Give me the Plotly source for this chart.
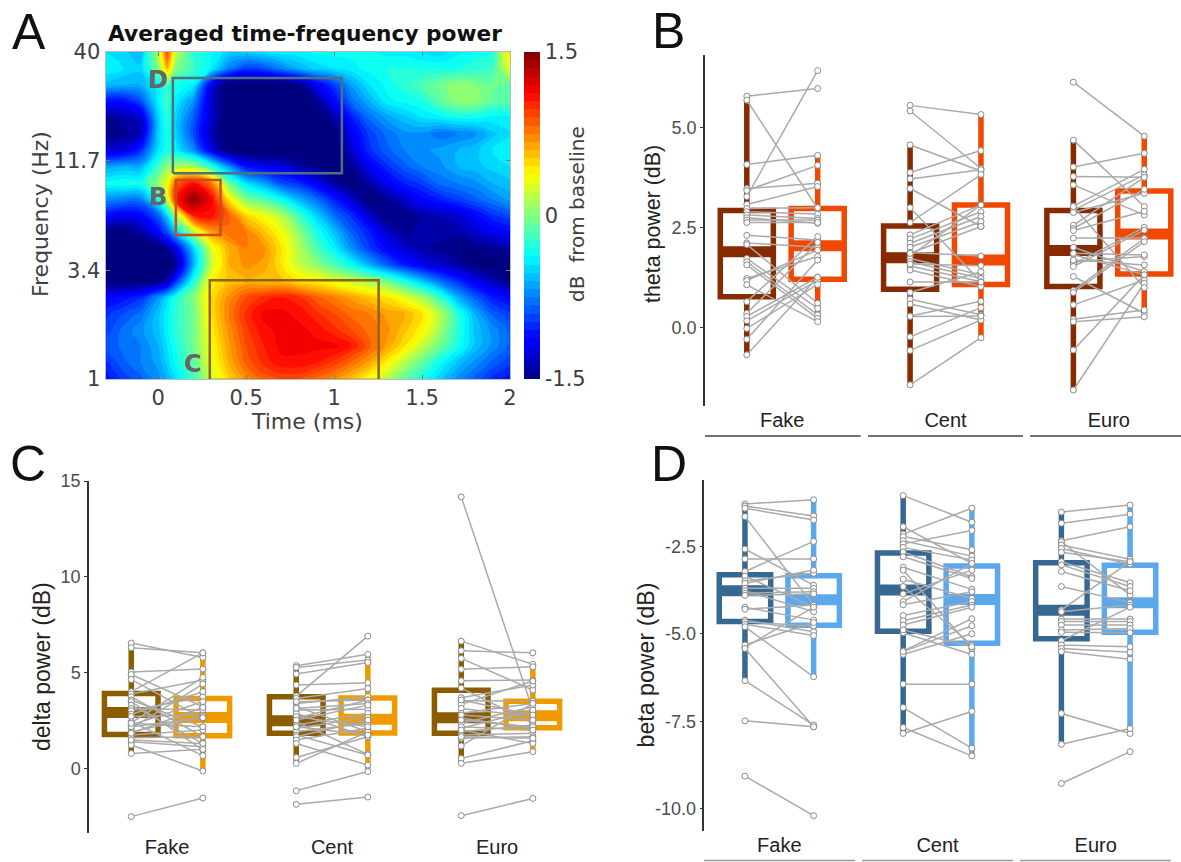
import plotly.graph_objects as go
import math

W, H = 1181, 862

# ---------- Panel A data ----------
tf_time = [-0.3,-0.2,-0.1,0,0.05,0.1,0.2,0.3,0.4,0.5,0.6,0.7,0.8,0.9,1.0,1.1,1.2,1.3,1.4,1.5,1.6,1.7,1.8,1.9,2.0]
tf_freq = [1,1.2,1.45,1.74,2.09,2.51,3.02,3.63,4.37,5.25,6.32,7.6,9.1,11,13.2,15.9,19.1,23,27.6,33.2,40]
tf_power = [
[-1.1,-0.95,-0.85,-0.7,-0.6,-0.45,-0.2,0.2,0.5,0.7,0.85,0.9,0.9,0.8,0.7,0.55,0.35,0.15,-0.1,-0.3,-0.5,-0.7,-0.85,-1.0,-1.1],
[-1.0,-0.85,-0.75,-0.65,-0.5,-0.35,-0.1,0.3,0.6,0.85,1.0,1.1,1.1,1.05,0.95,0.8,0.65,0.4,0.15,-0.1,-0.35,-0.55,-0.7,-0.85,-0.95],
[-0.9,-0.8,-0.75,-0.6,-0.45,-0.3,-0.05,0.35,0.65,0.9,1.05,1.15,1.15,1.15,1.15,1.05,0.85,0.65,0.45,0.2,-0.05,-0.3,-0.55,-0.7,-0.85],
[-0.95,-0.8,-0.7,-0.55,-0.4,-0.25,-0.05,0.4,0.7,0.95,1.1,1.15,1.15,1.1,1.0,0.9,0.8,0.7,0.55,0.4,0.1,-0.25,-0.55,-0.7,-0.85],
[-1.0,-0.9,-0.8,-0.55,-0.4,-0.25,-0.05,0.45,0.75,1.0,1.15,1.15,1.1,1.0,0.9,0.8,0.75,0.65,0.6,0.45,0.15,-0.25,-0.6,-0.85,-0.95],
[-1.15,-1.1,-1.0,-0.7,-0.5,-0.3,0.0,0.45,0.7,0.9,1.0,1.05,1.0,0.85,0.75,0.65,0.55,0.45,0.3,0.1,-0.2,-0.6,-0.85,-1.05,-1.15],
[-1.55,-1.55,-1.55,-1.5,-1.4,-1.0,-0.3,0.4,0.55,0.6,0.55,0.55,0.45,0.4,0.3,0.2,0.1,-0.05,-0.3,-0.55,-0.8,-1.0,-1.2,-1.35,-1.5],
[-1.6,-1.6,-1.6,-1.6,-1.55,-1.45,-0.6,0.2,0.6,0.7,0.65,0.45,0.2,0.05,-0.15,-0.35,-0.6,-0.85,-1.05,-1.2,-1.3,-1.4,-1.5,-1.55,-1.55],
[-1.6,-1.6,-1.6,-1.55,-1.45,-1.2,-0.5,0.3,0.6,0.75,0.7,0.45,0.15,-0.15,-0.4,-0.7,-0.95,-1.15,-1.3,-1.4,-1.45,-1.5,-1.5,-1.45,-1.4],
[-1.5,-1.55,-1.4,-1.15,-0.9,-0.55,0.15,0.65,0.8,0.75,0.55,0.35,0.05,-0.3,-0.55,-0.85,-1.05,-1.3,-1.45,-1.4,-1.4,-1.4,-1.3,-1.2,-1.15],
[-1.1,-1.2,-1.15,-0.85,-0.5,0.1,1.05,1.1,0.85,0.5,0.35,0.15,-0.2,-0.5,-0.8,-1.0,-1.3,-1.5,-1.5,-1.4,-1.35,-1.3,-1.15,-1.0,-0.9],
[-0.7,-0.75,-0.75,-0.3,0.2,1.05,1.45,1.15,0.45,0,-0.15,-0.35,-0.6,-0.8,-1.05,-1.3,-1.55,-1.45,-1.3,-1.15,-1.05,-0.95,-0.85,-0.75,-0.65],
[-0.35,-0.3,-0.3,0.05,0.3,0.85,1.1,0.8,-0.05,-0.45,-0.65,-0.9,-1.0,-1.2,-1.4,-1.55,-1.4,-1.2,-1.05,-0.95,-0.8,-0.75,-0.7,-0.6,-0.55],
[-0.65,-0.6,-0.6,-0.2,0.05,0.1,0.1,-0.25,-0.7,-1.1,-1.2,-1.25,-1.4,-1.5,-1.6,-1.45,-1.2,-1.0,-0.85,-0.75,-0.7,-0.6,-0.55,-0.5,-0.45],
[-1.3,-1.25,-1.0,-0.45,-0.3,-0.4,-0.7,-1.2,-1.55,-1.6,-1.6,-1.6,-1.6,-1.6,-1.6,-1.3,-1.0,-0.85,-0.75,-0.7,-0.65,-0.6,-0.55,-0.45,-0.4],
[-1.5,-1.45,-1.35,-0.5,-0.3,-0.5,-0.9,-1.35,-1.6,-1.6,-1.6,-1.6,-1.6,-1.6,-1.55,-1.2,-0.95,-0.8,-0.7,-0.7,-0.8,-0.75,-0.7,-0.55,-0.45],
[-1.45,-1.4,-1.3,-0.5,-0.25,-0.5,-0.85,-1.3,-1.6,-1.6,-1.6,-1.6,-1.6,-1.6,-1.4,-1.05,-0.8,-0.65,-0.55,-0.45,-0.4,-0.35,-0.35,-0.4,-0.4],
[-1.1,-1.1,-0.9,-0.4,-0.2,-0.4,-0.7,-1.3,-1.6,-1.6,-1.6,-1.6,-1.6,-1.45,-1.15,-0.8,-0.6,-0.4,-0.35,-0.3,-0.1,0.05,0.05,-0.1,-0.1],
[-0.55,-0.6,-0.6,-0.4,-0.2,-0.3,-0.4,-1.2,-1.6,-1.6,-1.6,-1.6,-1.5,-1.2,-0.95,-0.65,-0.45,-0.35,-0.25,-0.15,-0.05,0.05,0,-0.05,-0.1],
[-0.4,-0.45,-0.5,0.0,0.6,0.0,-0.2,-0.4,-0.75,-0.95,-0.9,-0.75,-0.6,-0.5,-0.45,-0.4,-0.35,-0.3,-0.3,-0.3,-0.3,-0.3,-0.25,-0.2,0.3],
[-0.45,-0.5,-0.6,0.1,0.95,0.2,-0.25,-0.35,-0.5,-0.5,-0.45,-0.4,-0.4,-0.35,-0.35,-0.35,-0.35,-0.4,-0.4,-0.45,-0.5,-0.4,-0.35,-0.3,0.5],
]
jet = [[0,"#00007f"],[0.11,"#0000ff"],[0.125,"#0000ff"],[0.375,"#00ffff"],[0.5,"#80ff80"],[0.625,"#ffff00"],[0.875,"#ff0000"],[1,"#7f0000"]]
roi_names = ["D", "B", "C"]
roi_t0 = [0.083, 0.10, 0.293]
roi_t1 = [1.044, 0.354, 1.253]
roi_f0 = [10.2, 5.08, 0.99]
roi_f1 = [29.8, 9.44, 3.05]
roi_colors = ["#50707f", "#cc4a1c", "#8f6412"]

# ---------- Shared categories ----------
categories = ["Fake", "Cent", "Euro"]

# ---------- Panel B: theta ----------
theta_fake_a = [5.79,5.69,4.08,3.48,3.43,3.28,3.08,2.98,2.90,2.82,2.75,2.69,2.63,2.31,2.12,2.08,1.73,1.65,1.57,1.23,1.18,1.07,0.65,0.36,0.28,0.17,-0.02,-0.29,-0.68]
theta_fake_b = [5.98,2.98,4.31,3.61,4.06,6.43,3.53,3.0,2.84,2.73,2.61,2.69,2.63,2.19,2.01,0.61,0.48,0.32,0.23,1.78,1.94,0.15,2.28,2.13,1.26,1.18,1.08,1.69,1.26]
theta_cent_a = [5.56,5.42,4.57,3.88,3.72,3.48,3.00,2.63,2.32,2.22,2.11,2.01,1.88,1.79,1.73,1.65,1.54,1.44,1.14,0.88,0.71,0.59,0.29,-0.23,-0.57,-1.43,1.59,1.86,0.28]
theta_cent_b = [5.33,3.98,3.92,4.43,3.95,2.53,1.15,3.83,3.07,2.90,2.78,2.65,1.79,3.07,1.32,1.23,1.15,1.03,1.14,1.40,0.32,0.19,0.66,0.50,0.19,-0.25,1.55,2.53,0.29]
theta_euro_a = [6.14,4.69,4.02,3.78,3.57,3.04,2.94,2.88,2.56,2.48,2.43,2.24,2.01,1.83,1.65,1.59,1.53,1.28,0.93,0.88,0.57,0.21,0.15,-0.56,-1.56,1.86,1.69,3.03]
theta_euro_b = [4.79,3.03,4.36,3.76,2.82,3.96,3.82,3.36,3.76,3.46,2.91,2.24,1.40,1.32,1.78,2.51,2.44,0.36,2.23,2.15,1.19,0.44,0.27,1.32,1.11,1.82,1.57,1.0]
theta_q1 = [0.77,1.21,0.96,1.08,1.03,1.34]
theta_median = [1.90,2.05,1.75,1.69,1.93,2.34]
theta_q3 = [2.93,2.98,2.54,3.07,2.93,3.42]
theta_low = [-0.68,0.15,-1.43,-0.25,-1.56,0.27]
theta_high = [5.69,4.31,4.57,5.33,4.69,4.79]

# ---------- Panel C: delta ----------
delta_fake_a = [6.54,6.30,5.03,4.90,4.64,4.0,3.88,3.74,3.57,3.48,3.30,3.13,3.01,2.82,2.70,2.38,2.26,2.09,1.91,1.74,1.60,1.39,1.22,0.78,-2.52,2.17,1.83,2.43,1.48,2.35]
delta_fake_b = [5.79,6.03,5.18,3.22,2.61,6.03,4.61,1.65,2.17,0.96,1.30,3.04,3.74,4.0,2.78,4.75,3.48,4.40,2.70,2.0,1.65,1.13,-0.14,0.99,-1.55,2.64,3.18,0.66,1.30,2.17]
delta_cent_a = [5.36,5.27,4.92,4.35,3.77,3.65,3.39,3.22,3.04,2.87,2.61,2.43,2.26,2.09,1.91,1.74,1.65,1.48,1.30,0.57,0.26,-1.17,-1.88,3.48,3.13,2.70,2.52,2.17]
delta_cent_b = [5.95,5.65,5.53,4.47,6.90,4.17,3.74,1.91,3.08,1.65,3.57,0.73,2.87,2.66,2.35,0.70,2.52,2.09,0.17,1.65,1.91,-0.17,-1.50,3.57,3.39,2.17,3.30,1.74]
delta_euro_a = [14.17,6.64,6.14,5.74,5.17,4.57,4.19,3.69,3.53,3.34,3.13,2.87,2.61,2.35,2.09,1.91,1.74,1.57,1.17,0.52,0.26,-2.47,3.57,2.78,2.52,2.17,2.0,1.65]
delta_euro_b = [3.04,5.43,6.03,4.09,5.30,4.61,2.35,4.35,3.51,4.56,2.70,3.39,2.09,3.22,3.04,2.26,1.83,1.65,3.39,1.44,0.87,-1.57,2.78,2.52,2.17,2.0,1.30,1.57]
delta_q1 = [1.76,1.70,1.83,1.84,1.83,2.12]
delta_median = [2.92,2.66,2.49,2.56,2.64,2.75]
delta_q3 = [3.91,3.65,3.74,3.67,4.07,3.50]
delta_low = [0.78,-0.14,0.26,-0.17,0.26,0.87]
delta_high = [6.54,6.03,5.36,5.95,6.64,5.43]

# ---------- Panel D: beta ----------
beta_fake_a = [-1.29,-1.35,-1.41,-1.65,-2.58,-2.86,-3.22,-3.35,-3.49,-3.56,-3.70,-3.77,-3.84,-3.90,-4.24,-4.30,-4.61,-4.66,-4.73,-5.39,-5.32,-4.80,-5.42,-6.34,-7.49,-9.07]
beta_fake_b = [-1.17,-1.63,-1.75,-4.18,-3.61,-2.86,-2.36,-4.24,-3.27,-3.18,-3.70,-4.37,-3.80,-3.86,-4.61,-4.18,-4.94,-4.78,-5.05,-4.24,-4.68,-6.23,-7.66,-7.61,-7.66,-10.20]
beta_cent_a = [-1.05,-1.94,-2.15,-2.22,-2.34,-2.43,-2.53,-2.66,-2.80,-3.10,-3.18,-3.44,-3.65,-3.86,-4.08,-4.17,-4.48,-4.63,-4.75,-4.97,-5.49,-5.59,-5.51,-4.89,-6.44,-7.11,-7.68,-7.85]
beta_cent_b = [-1.81,-2.99,-1.41,-2.60,-2.78,-2.05,-2.89,-3.37,-3.42,-3.73,-5.42,-3.99,-5.32,-3.18,-2.99,-3.80,-4.08,-4.18,-4.24,-5.59,-4.57,-5.00,-4.77,-5.37,-6.44,-8.27,-8.49,-7.22]
beta_euro_a = [-1.52,-1.84,-2.34,-2.37,-2.46,-2.56,-2.67,-2.94,-3.03,-3.22,-3.65,-4.32,-4.37,-4.58,-4.65,-4.75,-4.89,-4.96,-5.20,-5.32,-5.42,-5.51,-7.28,-8.16,-9.28]
beta_euro_b = [-1.32,-1.58,-1.94,-3.89,-2.87,-3.01,-2.94,-3.54,-3.65,-3.77,-4.11,-2.94,-4.18,-4.58,-4.65,-4.75,-4.85,-4.97,-4.24,-5.37,-5.53,-5.73,-7.85,-7.71,-8.37]
beta_q1 = [-4.65,-4.76,-4.93,-5.27,-5.14,-4.96]
beta_median = [-3.77,-4.03,-3.75,-4.02,-4.33,-4.11]
beta_q3 = [-3.31,-3.34,-2.69,-3.06,-2.97,-3.04]
beta_low = [-6.34,-6.23,-7.85,-8.49,-8.16,-7.85]
beta_high = [-1.32,-1.17,-1.05,-1.41,-1.51,-1.32]

# ---------- helpers ----------
def xp(p): return p / W
def yp(p): return 1 - p / H

annotations = []
def label(x, y, text, size, color="#222", family="Liberation Sans", angle=0, anchor="center"):
    annotations.append(dict(x=xp(x), y=yp(y), xref="paper", yref="paper", text=text, showarrow=False,
                            xanchor=anchor, yanchor="middle", textangle=angle,
                            font=dict(size=size, color=color, family=family)))

fig = go.Figure()
DV = "DejaVu Sans"
GREY = "#404040"

# ---------- Panel A ----------
fig.add_trace(go.Contour(
    x=tf_time, y=tf_freq, z=tf_power, colorscale=jet, zmin=-1.5, zmax=1.5,
    contours=dict(coloring="fill", start=-1.5, end=1.5, size=0.075, showlines=False),
    line=dict(width=0, smoothing=1.3), hoverinfo="skip",
    colorbar=dict(x=xp(524), xanchor="left", y=yp(379), yanchor="bottom", len=327/H, lenmode="fraction",
                  xpad=0, ypad=0,
                  thickness=16, thicknessmode="pixels", outlinewidth=0, tickmode="array",
                  tickvals=[-1.5, 0, 1.5], ticktext=["-1.5", "0", "1.5"], ticks="", ticklabelposition="outside",
                  tickfont=dict(size=21, color=GREY, family=DV)),
    xaxis="x", yaxis="y"))
for i, name in enumerate(roi_names):
    fig.add_trace(go.Scatter(
        x=[roi_t0[i], roi_t1[i], roi_t1[i], roi_t0[i], roi_t0[i]],
        y=[roi_f0[i], roi_f0[i], roi_f1[i], roi_f1[i], roi_f0[i]],
        mode="lines", line=dict(color=roi_colors[i], width=2.5), cliponaxis=False, showlegend=False,
        hoverinfo="skip", xaxis="x", yaxis="y"))

# ---------- Panels B, C, D ----------
OFF, BW = 0.217, 0.325
def panel(ax, ay, q1, med, q3, low, high, pairs, dark, light):
    for g in range(3):
        for k, sign in enumerate((-1, 1)):
            i = g * 2 + k
            pos = g + sign * OFF
            c = dark if k == 0 else light
            fig.add_trace(go.Box(x=[pos], q1=[q1[i]], median=[med[i]], q3=[q3[i]], lowerfence=[low[i]],
                                 upperfence=[high[i]], width=BW, whiskerwidth=0, boxpoints=False,
                                 line=dict(color=c, width=5.5), fillcolor="rgba(0,0,0,0)", showlegend=False,
                                 hoverinfo="skip", xaxis=ax, yaxis=ay))
            fig.add_trace(go.Scatter(x=[pos - BW/2, pos + BW/2], y=[med[i], med[i]], mode="lines",
                                     line=dict(color=c, width=11), showlegend=False, hoverinfo="skip",
                                     xaxis=ax, yaxis=ay))
    for g, (a, b) in enumerate(pairs):
        xs, ys = [], []
        for va, vb in zip(a, b):
            xs += [g - OFF, g + OFF, None]
            ys += [va, vb, None]
        fig.add_trace(go.Scatter(x=xs, y=ys, mode="lines+markers", showlegend=False, hoverinfo="skip",
                                 line=dict(color="#aaaaaa", width=1.5),
                                 marker=dict(size=6, color="white", line=dict(color="#8a8a8a", width=1)),
                                 xaxis=ax, yaxis=ay))

panel("x2", "y2", theta_q1, theta_median, theta_q3, theta_low, theta_high,
      [(theta_fake_a, theta_fake_b), (theta_cent_a, theta_cent_b), (theta_euro_a, theta_euro_b)], "#872a00", "#f04800")
panel("x3", "y3", delta_q1, delta_median, delta_q3, delta_low, delta_high,
      [(delta_fake_a, delta_fake_b), (delta_cent_a, delta_cent_b), (delta_euro_a, delta_euro_b)], "#8c5c00", "#ef9b00")
panel("x4", "y4", beta_q1, beta_median, beta_q3, beta_low, beta_high,
      [(beta_fake_a, beta_fake_b), (beta_cent_a, beta_cent_b), (beta_euro_a, beta_euro_b)], "#376892", "#5ba8ec")

def cat_x(anchor, px0, px1, rng):
    return dict(domain=[xp(px0), xp(px1)], range=rng, anchor=anchor, tickmode="array", tickvals=[0, 1, 2],
                ticktext=categories, ticks="", showgrid=False, zeroline=False, showline=False,
                tickfont=dict(size=20, color="#222", family="Liberation Sans"))
def val_y(anchor, ptop, pbot, rng, vals, text):
    return dict(domain=[yp(pbot), yp(ptop)], range=rng, anchor=anchor, tickmode="array", tickvals=vals, ticktext=text,
                ticks="outside", ticklen=3, tickcolor="#333", tickwidth=1.3, showgrid=False, zeroline=False,
                showline=True, linecolor="#333", linewidth=1.5,
                tickfont=dict(size=18, color="#4d4d4d", family="Liberation Sans"))

layout = dict(
    width=W, height=H, margin=dict(l=0, r=0, t=0, b=0, autoexpand=False), paper_bgcolor="white", plot_bgcolor="white",
    showlegend=False, boxmode="overlay",
    xaxis=dict(domain=[xp(105.5), xp(510)], range=[-0.3, 2], anchor="y", tickmode="array", tickvals=[0, 0.5, 1, 1.5, 2],
               ticktext=["0", "0.5", "1", "1.5", "2"], ticks="inside", ticklen=4, tickcolor="#777", showgrid=False, zeroline=False,
               showline=True, linecolor="#bbb", mirror="ticks",
               tickfont=dict(size=21, color=GREY, family=DV)),
    yaxis=dict(domain=[yp(379), yp(52)], type="log", range=[0, math.log10(40)], anchor="x", tickmode="array",
               tickvals=[1, 3.4, 11.7, 40], ticktext=["1", "3.4", "11.7", "40"], ticks="inside", ticklen=4, tickcolor="#777",
               showgrid=False, zeroline=False, showline=True, linecolor="#bbb", mirror="ticks",
               tickfont=dict(size=21, color=GREY, family=DV)),
    xaxis2=cat_x("y2", 705, 1181, [-0.473, 2.442]),
    yaxis2=val_y("x2", 55, 406, [-1.96, 6.82], [0, 2.5, 5], ["0.0", "2.5", "5.0"]),
    xaxis3=cat_x("y3", 89, 600, [-0.473, 2.624]),
    yaxis3=val_y("x3", 481, 832.7, [-3.36, 15], [0, 5, 10, 15], ["0", "5", "10", "15"]),
    xaxis4=cat_x("y4", 704.3, 1181, [-0.474, 2.539]),
    yaxis4=val_y("x4", 480, 830.7, [-10.63, -0.604], [-10, -7.5, -5, -2.5], ["-10.0", "-7.5", "-5.0", "-2.5"]),
)

# category underlines
shapes = []
for (x0, x1, y, c) in [(705, 860.5, 436, "#444"), (868, 1023, 436, "#444"), (1030, 1181, 436, "#444"),
                       (704, 855, 860.5, "#999"), (862, 1012.7, 860.5, "#999"), (1020, 1170.7, 860.5, "#999")]:
    shapes.append(dict(type="line", xref="paper", yref="paper", x0=xp(x0), x1=xp(x1), y0=yp(y), y1=yp(y),
                       line=dict(color=c, width=1.5)))
layout["shapes"] = shapes

# text
label(29, 32, "A", 50, "#111")
label(668, 31, "B", 50, "#111")
label(28, 464, "C", 50, "#111")
label(669, 464, "D", 50, "#111")
label(305, 34, "<b>Averaged time-frequency power</b>", 21.7, "#111", DV)
label(307, 421, "Time (ms)", 22, GREY, DV)
label(41, 214, "Frequency (Hz)", 22, GREY, DV, -90)
label(577, 214, "dB  from baseline", 20, GREY, DV, -90)
label(158, 80, "<b>D</b>", 24, "#666", DV)
label(158, 197, "<b>B</b>", 24, "#666", DV)
label(193, 364, "<b>C</b>", 24, "#666", DV)
label(653, 224, "theta power (dB)", 21.4, "#222", angle=-90)
label(42, 667, "delta power (dB)", 23, "#222", angle=-90)
label(645, 665.5, "beta power (dB)", 23.2, "#222", angle=-90)
layout["annotations"] = annotations

fig.update_layout(**layout)
fig.write_html("out.html", config={"displayModeBar": False},
               post_script="document.body.style.margin='0';document.body.style.overflow='hidden';")
